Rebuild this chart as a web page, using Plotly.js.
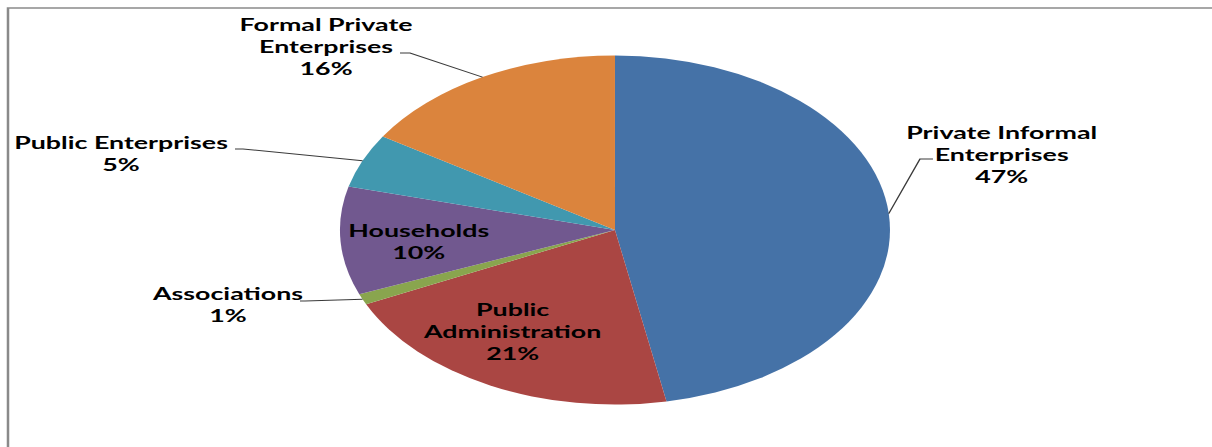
<!DOCTYPE html>
<html>
<head>
<meta charset="utf-8">
<script src="https://cdn.plot.ly/plotly-3.0.1.min.js"></script>
<style>
  html, body { margin: 0; padding: 0; background: #fff; overflow: hidden; }
  #wrap { position: absolute; left: 0; top: 0; transform-origin: 0 0; }
</style>
</head>
<body>
<div id="wrap"><div id="chart"></div></div>
<script>
// ---- data ----
const categories = ["Private Informal Enterprises", "Public Administration", "Associations", "Households", "Public Enterprises", "Formal Private Enterprises"];
const values = [47, 21, 1, 10, 5, 16];
const displayLabels = ["Private Informal<br>Enterprises", "Public<br>Administration", "Associations", "Households", "Public Enterprises", "Formal Private<br>Enterprises"];
const colors = ["#4572A7", "#AA4643", "#89A54E", "#71588F", "#4198AF", "#DB843D"];

// ---- layout (in target pixel space, width 1212 x 447) ----
const FULL_W = 1212, H = 447;
const STRETCH = 1.576;               // horizontal stretch of the whole chart
const W0 = FULL_W / STRETCH;         // un-stretched plot width
const CX = 615, CY = 230, RY = 174.5, RX = RY * STRETCH;

// label centres and leader elbows (layout positions)
const labelPos = [[1001, 154], [512, 331], [227, 304], [418, 242], [121, 153], [327, 46]];
const leaders = [
  [[920, 159], [933, 159]],
  null,
  [[305, 301], [300, 301]],
  null,
  [[243, 149], [235, 149]],
  [[410, 53], [400, 53]]
];

const px = X => X / FULL_W;
const py = Y => 1 - Y / H;

document.getElementById('wrap').style.transform = 'scaleX(' + STRETCH + ')';

const total = values.reduce((a, b) => a + b, 0);
const annotations = [];
const shapes = [];
let cum = 0;
values.forEach((v, i) => {
  const theta = 2 * Math.PI * (cum + v / 2) / total;
  cum += v;
  const ex = CX + RX * Math.sin(theta);
  const ey = CY - RY * Math.cos(theta);
  annotations.push({
    x: px(labelPos[i][0]), y: py(labelPos[i][1]), xref: 'paper', yref: 'paper',
    xanchor: 'center', yanchor: 'middle', align: 'center', showarrow: false,
    text: displayLabels[i] + '<br>' + v + '%',
    font: { family: 'Lato, "Open Sans", sans-serif', size: 17, weight: 700, color: '#000' }
  });
  if (leaders[i]) {
    const pts = [[ex, ey]].concat(leaders[i]);
    const path = pts.map((p, k) => (k ? 'L' : 'M') + px(p[0]) + ',' + py(p[1])).join(' ');
    shapes.push({ type: 'path', xref: 'paper', yref: 'paper', path: path,
      line: { color: '#3a3a3a', width: 0.9 } });
  }
});

// chart frame
shapes.push({ type: 'rect', xref: 'paper', yref: 'paper',
  x0: px(8), y0: py(8), x1: 1.05, y1: -0.05,
  line: { color: '#8a8a8a', width: 1.6 }, fillcolor: 'rgba(0,0,0,0)' });

const halfX = RY / W0;
const trace = {
  type: 'pie',
  labels: categories,
  values: values,
  sort: false,
  direction: 'clockwise',
  rotation: 0,
  textinfo: 'none',
  hoverinfo: 'label+percent',
  marker: { colors: colors, line: { width: 0 } },
  domain: { x: [px(CX) - halfX * 1.02, px(CX) + halfX * 1.02], y: [py(CY + RY), py(CY - RY)] }
};

Plotly.newPlot('chart', [trace], {
  width: W0, height: H,
  margin: { l: 0, r: 0, t: 0, b: 0 },
  showlegend: false,
  paper_bgcolor: '#fff',
  annotations: annotations,
  shapes: shapes
}, { staticPlot: true, displayModeBar: false });
</script>
</body>
</html>
